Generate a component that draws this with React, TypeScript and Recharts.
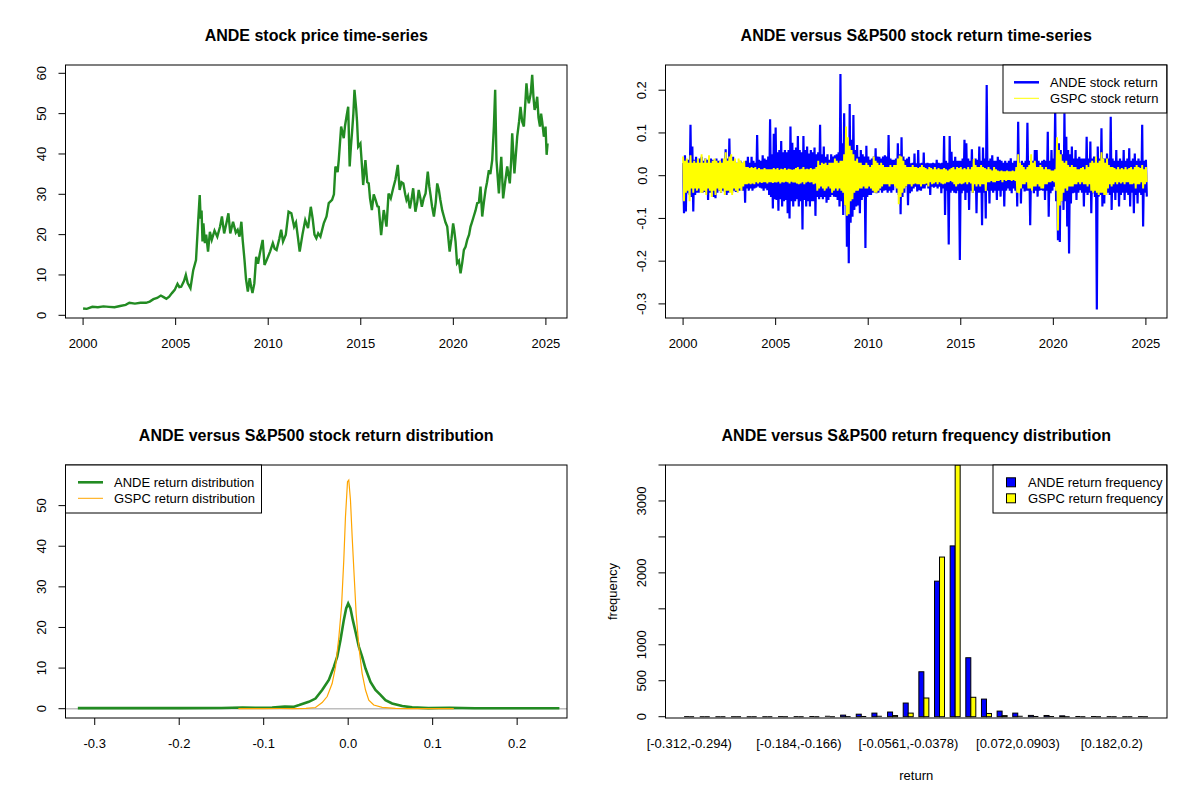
import React from 'react';
import { LineChart, Line, XAxis, YAxis, BarChart, Bar, ReferenceLine } from 'recharts';

const FONT = "'Liberation Sans', Arial, Helvetica, sans-serif";

// ---------------- Panel 1: ANDE price ----------------
const priceYears = [
  2000.0, 2000.2, 2000.5, 2000.8, 2001.1, 2001.4, 2001.7, 2002.0, 2002.3, 2002.5, 2002.8, 2003.1, 2003.4, 2003.6, 2003.8,
  2004.0, 2004.2, 2004.35, 2004.5, 2004.65, 2004.8, 2004.95, 2005.1, 2005.2, 2005.3, 2005.45, 2005.55, 2005.65, 2005.8, 2005.95,
  2006.1, 2006.2, 2006.3, 2006.35, 2006.4, 2006.45, 2006.5, 2006.58, 2006.65, 2006.75, 2006.85, 2006.95, 2007.1, 2007.25, 2007.4,
  2007.5, 2007.62, 2007.75, 2007.85, 2007.95, 2008.1, 2008.25, 2008.35, 2008.45, 2008.55, 2008.62, 2008.72, 2008.8, 2008.9, 2009.0,
  2009.08, 2009.15, 2009.25, 2009.35, 2009.45, 2009.55, 2009.7, 2009.8, 2009.9, 2010.1, 2010.25, 2010.35, 2010.45, 2010.6, 2010.7,
  2010.8, 2010.95, 2011.1, 2011.25, 2011.4, 2011.5, 2011.6, 2011.7, 2011.85, 2012.0, 2012.15, 2012.3, 2012.4, 2012.5, 2012.6,
  2012.7, 2012.82, 2013.0, 2013.15, 2013.27, 2013.45, 2013.55, 2013.63, 2013.75, 2013.81, 2013.94, 2014.08, 2014.15, 2014.23, 2014.32,
  2014.4, 2014.47, 2014.53, 2014.6, 2014.66, 2014.75, 2014.8, 2014.86, 2014.98, 2015.05, 2015.13, 2015.25, 2015.35, 2015.43, 2015.5,
  2015.6, 2015.7, 2015.8, 2015.9, 2015.97, 2016.1, 2016.17, 2016.24, 2016.32, 2016.39, 2016.5, 2016.62, 2016.75, 2016.87, 2017.0,
  2017.1, 2017.2, 2017.3, 2017.4, 2017.47, 2017.55, 2017.65, 2017.75, 2017.83, 2017.95, 2018.05, 2018.13, 2018.22, 2018.3, 2018.4,
  2018.5, 2018.62, 2018.7, 2018.77, 2018.85, 2018.95, 2019.05, 2019.13, 2019.22, 2019.3, 2019.4, 2019.49, 2019.58, 2019.67, 2019.8,
  2019.9, 2019.99, 2020.05, 2020.12, 2020.2, 2020.3, 2020.39, 2020.48, 2020.57, 2020.66, 2020.75, 2020.85, 2020.93, 2021.0, 2021.1,
  2021.2, 2021.29, 2021.38, 2021.47, 2021.56, 2021.65, 2021.74, 2021.82, 2021.92, 2022.0, 2022.1, 2022.19, 2022.26, 2022.33, 2022.4,
  2022.46, 2022.52, 2022.59, 2022.69, 2022.8, 2022.91, 2023.05, 2023.12, 2023.18, 2023.3, 2023.38, 2023.45, 2023.55, 2023.63, 2023.72,
  2023.81, 2023.88, 2023.95, 2024.02, 2024.08, 2024.18, 2024.26, 2024.33, 2024.39, 2024.46, 2024.53, 2024.6, 2024.68, 2024.74, 2024.8,
  2024.89, 2024.95, 2024.98, 2025.04, 2025.09,
];
const priceValues = [
  1.7, 1.6, 2.1, 2.0, 2.2, 2.1, 2.0, 2.3, 2.6, 3.1, 2.9, 3.1, 3.1, 3.4, 4.0,
  4.3, 4.9, 4.5, 4.1, 4.6, 5.5, 6.3, 7.8, 7.0, 7.1, 8.5, 10.0, 8.0, 6.7, 11.2,
  13.7, 22, 29.8, 24, 26, 18.3, 22.8, 17.9, 20, 15.8, 20.7, 18.7, 21, 19.5, 22,
  24.5, 20.3, 23, 25.3, 20.3, 23.2, 20.5, 21.2, 19.5, 23.2, 18.7, 13.7, 9, 5.9, 9.2,
  7, 5.5, 7.9, 14.5, 12.8, 15.4, 18.7, 12.5, 13.5, 15.8, 17.9, 16.5, 16.2, 19, 21.2,
  18.3, 20, 25.7, 25.3, 22, 23, 19.5, 15.8, 20, 23.6, 21.6, 26.9, 24, 20, 19.1,
  20.3, 19.5, 22.8, 24.5, 27.8, 28.6, 30, 36.9, 35.5, 38.5, 46.8, 43.9, 47, 49.3, 51.7,
  36.9, 42, 45.5, 50, 55.9, 51.3, 48, 41.8, 42.6, 38, 32.3, 38.5, 33, 32.7, 29,
  26.1, 30, 28.6, 27, 26.9, 19.9, 23, 26.1, 24, 22, 30.2, 29, 31.5, 33.6, 37.3,
  31.1, 33, 32.7, 30, 28.6, 29.5, 26.5, 29, 31.5, 25.7, 28, 31.1, 29, 26.9, 29,
  30.2, 35.6, 32, 29.8, 27, 24.5, 28, 32.7, 31, 28.6, 26, 24.5, 23, 22, 15.8,
  19, 22.8, 21, 18.3, 12.9, 13.5, 10.4, 13, 16.2, 17, 18.7, 20, 22, 23, 24.5,
  26, 27.8, 28, 31.9, 24.5, 28, 31.1, 33, 36, 35, 38.5, 46.8, 55.9, 38.5, 34,
  30.2, 35, 39.3, 29, 33, 36.9, 32.7, 38, 45.1, 35.2, 40, 44.3, 48, 51.7, 48,
  46.8, 52, 57.5, 54, 52.6, 55, 59.6, 54, 50.9, 52, 54.2, 49, 46.8, 50, 48,
  44.3, 45.5, 46.8, 39.8, 42.6,
];

// ---------------- Panel 2: daily returns (high / low within each 0.1-year slot) ----------------
const RET_START = 2000.0;
const RET_STEP = 0.1;
const andeRetHigh = [
  .03, .048, .037, .037, .119, .068, .037, .044, .037, .04,
  .044, .035, .04, .037, .037, .04, .037, .035, .04, .035,
  .035, .04, .035, .062, .04, .087, .04, .044, .035, .03,
  .03, .035, .03, .03, .035, .044, .03, .044, .035, .03,
  .095, .037, .035, .048, .04, .037, .045, .132, .05, .098,
  .113, .055, .06, .081, .055, .06, .055, .06, .115, .077,
  .06, .066, .093, .06, .055, .093, .06, .068, .052, .06,
  .055, .066, .05, .055, .119, .05, .068, .044, .05, .037,
  .05, .045, .048, .05, .055, .238, .076, .146, .07, .08,
  .168, .084, .142, .06, .072, .044, .06, .05, .045, .07,
  .045, .037, .04, .045, .064, .045, .044, .04, .045, .048,
  .045, .095, .04, .037, .037, .04, .076, .05, .09, .045,
  .037, .04, .044, .029, .03, .052, .029, .06, .029, .03,
  .054, .029, .03, .029, .029, .03, .029, .037, .03, .029,
  .03, .093, .035, .03, .093, .056, .035, .044, .035, .035,
  .035, .04, .084, .076, .04, .035, .062, .035, .04, .037,
  .068, .035, .066, .04, .212, .035, .04, .048, .035, .035,
  .044, .037, .035, .03, .035, .03, .035, .041, .03, .035,
  .035, .126, .03, .035, .03, .035, .124, .035, .03, .035,
  .06, .06, .035, .03, .035, .037, .035, .103, .035, .06,
  .04, .16, .06, .076, .06, .05, .146, .091, .06, .05,
  .068, .04, .06, .04, .044, .04, .04, .04, .091, .04,
  .08, .04, .045, .04, .068, .04, .111, .04, .04, .052,
  .04, .138, .04, .035, .06, .035, .04, .035, .06, .035,
  .04, .064, .035, .04, .052, .035, .04, .035, .119, .035, .037,
];
const andeRetLow = [
  -.088, -.084, -.041, -.045, -.05, -.084, -.045, -.04, -.04, -.038,
  -.04, -.038, -.04, -.057, -.04, -.038, -.05, -.053, -.04, -.036,
  -.04, -.035, -.038, -.045, -.04, -.036, -.04, -.035, -.038, -.035,
  -.035, -.03, -.035, -.063, -.03, -.035, -.03, -.035, -.03, -.028,
  -.025, -.028, -.03, -.035, -.03, -.034, -.045, -.05, -.077, -.055,
  -.057, -.082, -.055, -.072, -.06, -.057, -.088, -.1, -.06, -.072,
  -.06, -.055, -.072, -.06, -.126, -.057, -.072, -.06, -.072, -.06,
  -.06, -.094, -.05, -.055, -.05, -.055, -.05, -.063, -.057, -.05,
  -.045, -.049, -.05, -.057, -.072, -.06, -.092, -.07, -.166, -.205,
  -.11, -.096, -.08, -.072, -.07, -.088, -.057, -.05, -.169, -.05,
  -.045, -.045, -.04, -.04, -.041, -.04, -.034, -.04, -.035, -.034,
  -.04, -.035, -.04, -.034, -.018, -.04, -.045, -.09, -.05, -.04,
  -.026, -.069, -.041, -.037, -.03, -.026, -.037, -.034, -.035, -.03,
  -.03, -.022, -.03, -.045, -.026, -.028, -.026, -.03, -.026, -.041,
  -.03, -.092, -.035, -.161, -.04, -.035, -.04, -.041, -.035, -.197,
  -.041, -.035, -.057, -.04, -.08, -.035, -.04, -.035, -.088, -.04,
  -.04, -.116, -.04, -.1, -.035, -.065, -.035, -.04, -.035, -.057,
  -.035, -.049, -.035, -.072, -.035, -.03, -.035, -.041, -.03, -.035,
  -.072, -.035, -.065, -.03, -.037, -.035, -.035, -.116, -.03, -.041,
  -.035, -.049, -.035, -.034, -.035, -.057, -.035, -.096, -.041, -.035,
  -.026, -.06, -.151, -.155, -.06, -.08, -.06, -.119, -.182, -.065,
  -.041, -.04, -.057, -.04, -.034, -.04, -.072, -.04, -.045, -.04,
  -.088, -.041, -.05, -.313, -.049, -.045, -.072, -.065, -.045, -.04,
  -.045, -.08, -.04, -.057, -.04, -.072, -.045, -.04, -.057, -.04,
  -.045, -.072, -.04, -.088, -.045, -.065, -.04, -.045, -.119, -.04, -.049,
];
const gspcRetHigh = [
  .045, .035, .04, .03, .048, .03, .035, .03, .04, .03,
  .05, .03, .04, .03, .048, .03, .035, .04, .035, .03,
  .035, .03, .04, .055, .035, .045, .05, .035, .04, .03,
  .04, .035, .03, .035, .02, .02, .018, .02, .018, .02,
  .015, .018, .015, .015, .018, .015, .015, .015, .015, .018,
  .015, .018, .014, .016, .015, .018, .014, .016, .015, .014,
  .015, .018, .02, .015, .016, .02, .015, .016, .015, .018,
  .015, .016, .02, .035, .025, .03, .028, .03, .025, .03,
  .03, .03, .04, .035, .03, .035, .035, .05, .115, .09,
  .07, .06, .05, .035, .04, .03, .03, .025, .025, .03,
  .025, .02, .025, .045, .035, .03, .025, .03, .025, .02,
  .02, .02, .025, .02, .025, .025, .04, .047, .045, .035,
  .025, .02, .02, .02, .025, .02, .02, .018, .02, .025,
  .02, .018, .015, .02, .018, .015, .02, .015, .018, .015,
  .015, .018, .015, .012, .015, .018, .02, .015, .02, .018,
  .02, .015, .018, .015, .02, .015, .02, .039, .025, .02,
  .02, .025, .02, .018, .015, .02, .015, .012, .02, .015,
  .012, .01, .012, .01, .01, .012, .01, .01, .012, .01,
  .02, .05, .03, .025, .02, .015, .02, .025, .05, .03,
  .035, .02, .02, .025, .02, .015, .02, .015, .015, .012,
  .012, .015, .09, .06, .05, .035, .03, .035, .025, .02,
  .025, .02, .02, .015, .015, .018, .02, .015, .025, .02,
  .03, .035, .03, .045, .03, .035, .055, .04, .03, .04,
  .025, .02, .02, .018, .015, .02, .015, .018, .015, .02,
  .015, .018, .02, .015, .02, .025, .02, .018, .025, .015, .02,
];
const gspcRetLow = [
  -.06, -.04, -.035, -.06, -.03, -.04, -.03, -.035, -.03, -.04,
  -.04, -.035, -.045, -.03, -.035, -.05, -.035, -.045, -.03, -.035,
  -.04, -.03, -.045, -.035, -.035, -.04, -.045, -.03, -.035, -.04,
  -.03, -.035, -.025, -.02, -.02, -.018, -.02, -.018, -.02, -.015,
  -.018, -.015, -.017, -.015, -.015, -.018, -.015, -.015, -.017, -.015,
  -.016, -.014, -.018, -.015, -.016, -.014, -.015, -.018, -.014, -.016,
  -.016, -.018, -.02, -.018, -.015, -.02, -.016, -.014, -.016, -.015,
  -.02, -.018, -.035, -.03, -.025, -.03, -.035, -.03, -.025, -.03,
  -.04, -.035, -.03, -.035, -.03, -.035, -.04, -.07, -.094, -.09,
  -.06, -.055, -.04, -.035, -.035, -.03, -.03, -.025, -.03, -.03,
  -.025, -.03, -.035, -.04, -.04, -.035, -.03, -.025, -.02, -.02,
  -.02, -.025, -.02, -.02, -.025, -.03, -.067, -.05, -.04, -.03,
  -.025, -.02, -.02, -.025, -.02, -.018, -.02, -.02, -.025, -.02,
  -.02, -.018, -.025, -.015, -.02, -.018, -.015, -.02, -.015, -.018,
  -.02, -.018, -.015, -.015, -.012, -.015, -.02, -.025, -.02, -.018,
  -.02, -.018, -.015, -.02, -.015, -.018, -.04, -.02, -.025, -.02,
  -.025, -.02, -.02, -.036, -.015, -.015, -.012, -.015, -.015, -.012,
  -.012, -.01, -.015, -.01, -.012, -.01, -.01, -.012, -.01, -.012,
  -.04, -.041, -.03, -.02, -.02, -.015, -.03, -.03, -.035, -.025,
  -.025, -.02, -.025, -.03, -.03, -.02, -.02, -.015, -.015, -.012,
  -.015, -.035, -.128, -.07, -.06, -.04, -.03, -.035, -.025, -.025,
  -.025, -.02, -.02, -.015, -.02, -.015, -.02, -.02, -.025, -.02,
  -.035, -.04, -.035, -.04, -.045, -.04, -.04, -.045, -.045, -.03,
  -.02, -.025, -.02, -.015, -.02, -.015, -.018, -.015, -.02, -.015,
  -.015, -.02, -.02, -.018, -.03, -.02, -.02, -.015, -.03, -.02, -.015,
];

// ---------------- Panel 3: return densities ----------------
const andeDensX = [
  -0.32, -0.25, -0.2, -0.15, -0.125, -0.11, -0.09, -0.075, -0.065, -0.058, -0.0466, -0.0387, -0.0308, -0.0229, -0.017,
  -0.013, -0.0091, -0.0052, -0.0024, 0, 0.0027, 0.0055, 0.0086, 0.0126, 0.0165, 0.0205, 0.0264, 0.0323, 0.0382, 0.0441,
  0.052, 0.064, 0.0757, 0.095, 0.12, 0.15, 0.2, 0.25,
];
const andeDensY = [
  0.15, 0.15, 0.15, 0.18, 0.3, 0.22, 0.3, 0.5, 0.45, 0.9, 1.7, 2.5, 4.6, 7.1, 10.3,
  12.8, 16.9, 21.8, 24.7, 25.9, 24.7, 21.8, 19.0, 15.3, 12.8, 9.9, 6.6, 4.6, 3.4, 2.1,
  1.3, 0.66, 0.33, 0.15, 0.22, 0.12, 0.12, 0.12,
];
const gspcDensX = [
  -0.13, -0.1, -0.08, -0.066, -0.05, -0.0387, -0.0308, -0.0249, -0.019, -0.015, -0.011, -0.0079, -0.0052, -0.0032, -0.0008,
  0.0007, 0.0027, 0.0047, 0.0067, 0.0094, 0.0126, 0.0165, 0.0205, 0.0244, 0.0303, 0.0402, 0.056, 0.0718, 0.1, 0.125,
];
const gspcDensY = [
  0.02, 0.02, 0.05, 0.03, 0.1, 0.3, 1.5, 3.0, 6.2, 10.3, 17.7, 25.1, 36.6, 47.3, 55.9,
  56.3, 51.4, 42.4, 34.2, 23.5, 15.3, 8.7, 4.6, 2.1, 0.9, 0.33, 0.08, 0.02, 0.01, 0.01,
];

// ---------------- Panel 4: frequency histogram ----------------
const andeFreq = [1, 0, 0, 0, 0, 0, 1, 1, 2, 6, 22, 35, 50, 65, 190, 625, 1885, 2375, 820, 245, 78, 50, 18, 17, 12, 3, 2, 1, 0, 1];
const gspcFreq = [0, 0, 0, 0, 0, 0, 0, 0, 0, 0, 1, 3, 6, 16, 50, 260, 2220, 3500, 270, 45, 15, 6, 3, 2, 0, 0, 0, 0, 0, 0];
const binTickIndex = [0, 7, 14, 21, 27];
const binTickText = ['[-0.312,-0.294)', '[-0.184,-0.166)', '[-0.0561,-0.0378)', '[0.072,0.0903)', '[0.182,0.2)'];

// ---------------- Ticks ----------------
const yearTicks = [2000, 2005, 2010, 2015, 2020, 2025];
const priceTicks = [0, 10, 20, 30, 40, 50, 60];
const retTicks = [-0.3, -0.2, -0.1, 0, 0.1, 0.2];
const densXTicks = [-0.3, -0.2, -0.1, 0, 0.1, 0.2];
const densYTicks = [0, 10, 20, 30, 40, 50];
const freqTicks = [0, 500, 1000, 1500, 2000, 2500, 3000, 3500];
const freqLabelTicks = [0, 500, 1000, 2000, 3000];

// ---------------- Tables ----------------
const priceTable = priceYears.map((t, i) => ({ t, price: priceValues[i] }));

const retTable: { t: number; ande: number; gspc: number }[] = [];
andeRetHigh.forEach((h, i) => {
  const t0 = RET_START + i * RET_STEP;
  retTable.push({ t: t0, ande: h, gspc: gspcRetHigh[i] });
  retTable.push({ t: t0 + RET_STEP / 2, ande: andeRetLow[i], gspc: gspcRetLow[i] });
});

const densTable: { x: number; ande?: number; gspc?: number }[] = [
  ...andeDensX.map((x, i) => ({ x, ande: andeDensY[i] })),
  ...gspcDensX.map((x, i) => ({ x, gspc: gspcDensY[i] })),
].sort((a, b) => a.x - b.x);

const freqTable = andeFreq.map((a, i) => ({ bin: i, ande: a, gspc: gspcFreq[i] }));

// ---------------- Geometry / helpers ----------------
const W = 600;
const H = 400;
const BOX = { left: 65.5, top: 65, right: 567, bottom: 318 };
const AX_W = 30;
const AX_H = 30;
const MARGIN = { top: BOX.top, right: W - BOX.right, bottom: H - BOX.bottom - AX_H, left: BOX.left - AX_W };
const LABEL_Y = 343;
const LABEL_X = 42;

const txt = { fontFamily: FONT, fontSize: 13, fill: '#000' } as const;

const makeXTick = (fmt: (v: any) => string) => (props: any) => {
  const { x, payload } = props;
  return (
    <text x={x} y={LABEL_Y} textAnchor="middle" dominantBaseline="central" {...txt}>
      {fmt(payload.value)}
    </text>
  );
};

const makeYTick = (fmt: (v: any) => string, show?: number[]) => (props: any) => {
  const { y, payload } = props;
  const v = payload.value;
  if (show && !show.includes(v)) return <g />;
  return (
    <text x={LABEL_X} y={y} transform={`rotate(-90 ${LABEL_X} ${y})`} textAnchor="middle" dominantBaseline="central" {...txt}>
      {fmt(v)}
    </text>
  );
};

const binTick = (props: any) => {
  const { x, payload } = props;
  const k = binTickIndex.indexOf(payload.value);
  if (k < 0) return <g />;
  return (
    <text x={x} y={LABEL_Y} textAnchor="middle" dominantBaseline="central" {...txt}>
      {binTickText[k]}
    </text>
  );
};

const BarShape = (p: any) => {
  const { x, y, width, height, fill } = p;
  if (!height || height < 0.5) {
    return <line x1={x} x2={x + width} y1={y} y2={y} stroke="#000" strokeWidth={1} />;
  }
  return <rect x={x} y={y} width={width} height={height} fill={fill} stroke="#000" strokeWidth={1} />;
};

const fmtInt = (v: number) => String(v);
const fmt1 = (v: number) => v.toFixed(1);

type LegendItem = { label: string; color: string; kind: 'line' | 'box'; width?: number };

const Legend = ({ x, w, items, symX, textX }: { x: number; w: number; items: LegendItem[]; symX: number; textX: number }) => (
  <g>
    <rect x={x} y={65} width={w} height={48} fill="#fff" stroke="#000" strokeWidth={1} />
    {items.map((it, i) => {
      const y = 82.3 + i * 16;
      return (
        <g key={i}>
          {it.kind === 'line' ? (
            <line x1={symX} x2={symX + 25} y1={y} y2={y} stroke={it.color} strokeWidth={it.width || 1} />
          ) : (
            <rect x={symX - 4.5} y={y - 4.5} width={9} height={9} fill={it.color} stroke="#000" strokeWidth={1} />
          )}
          <text x={textX} y={y} dominantBaseline="central" {...txt}>
            {it.label}
          </text>
        </g>
      );
    })}
  </g>
);

const Overlay = ({ title, children }: { title: string; children?: React.ReactNode }) => (
  <svg width={W} height={H} style={{ position: 'absolute', left: 0, top: 0, pointerEvents: 'none' }}>
    <text x={(BOX.left + BOX.right) / 2} y={35} textAnchor="middle" dominantBaseline="central" fontFamily={FONT} fontSize={16} fontWeight="bold" fill="#000">
      {title}
    </text>
    <rect x={BOX.left} y={BOX.top} width={BOX.right - BOX.left} height={BOX.bottom - BOX.top} fill="none" stroke="#000" strokeWidth={1} />
    {children}
  </svg>
);

const Panel = ({ left, top, children }: { left: number; top: number; children: React.ReactNode }) => (
  <div style={{ position: 'absolute', left, top, width: W, height: H }}>{children}</div>
);

export default function App() {
  return (
    <div style={{ position: 'fixed', left: 0, top: 0, width: 1200, height: 800, background: '#fff', overflow: 'hidden' }}>
      {/* Panel 1 */}
      <Panel left={0} top={0}>
        <LineChart width={W} height={H} data={priceTable} margin={MARGIN}>
          <XAxis dataKey="t" type="number" domain={[1999.05, 2026.14]} allowDataOverflow ticks={yearTicks} height={AX_H}
            stroke="#000" axisLine={false} tickSize={7} tick={makeXTick(fmtInt)} />
          <YAxis type="number" domain={[-0.67, 62.06]} allowDataOverflow ticks={priceTicks} width={AX_W}
            stroke="#000" axisLine={false} tickSize={7} tick={makeYTick(fmtInt)} />
          <Line dataKey="price" stroke="#228B22" strokeWidth={2.4} dot={false} isAnimationActive={false} />
        </LineChart>
        <Overlay title="ANDE stock price time-series" />
      </Panel>

      {/* Panel 2 */}
      <Panel left={600} top={0}>
        <LineChart width={W} height={H} data={retTable} margin={MARGIN}>
          <XAxis dataKey="t" type="number" domain={[1999.05, 2026.14]} allowDataOverflow ticks={yearTicks} height={AX_H}
            stroke="#000" axisLine={false} tickSize={7} tick={makeXTick(fmtInt)} />
          <YAxis type="number" domain={[-0.333, 0.259]} allowDataOverflow ticks={retTicks} width={AX_W}
            stroke="#000" axisLine={false} tickSize={7} tick={makeYTick(fmt1)} />
          <Line dataKey="ande" stroke="#0000FF" strokeWidth={2.2} dot={false} isAnimationActive={false} />
          <Line dataKey="gspc" stroke="#FFFF00" strokeWidth={1.9} dot={false} isAnimationActive={false} />
        </LineChart>
        <Overlay title="ANDE versus S&P500 stock return time-series">
          <Legend x={403} w={163.7} symX={414} textX={450}
            items={[
              { label: 'ANDE stock return', color: '#0000FF', kind: 'line', width: 2.5 },
              { label: 'GSPC stock return', color: '#FFFF00', kind: 'line', width: 1 },
            ]} />
        </Overlay>
      </Panel>

      {/* Panel 3 */}
      <Panel left={0} top={400}>
        <LineChart width={W} height={H} data={densTable} margin={MARGIN}>
          <XAxis dataKey="x" type="number" domain={[-0.3346, 0.259]} allowDataOverflow ticks={densXTicks} height={AX_H}
            stroke="#000" axisLine={false} tickSize={7} tick={makeXTick(fmt1)} />
          <YAxis type="number" domain={[-2.29, 60.0]} allowDataOverflow ticks={densYTicks} width={AX_W}
            stroke="#000" axisLine={false} tickSize={7} tick={makeYTick(fmtInt)} />
          <ReferenceLine y={0} stroke="#BEBEBE" strokeWidth={1.5} />
          <Line dataKey="ande" stroke="#228B22" strokeWidth={2.6} dot={false} connectNulls isAnimationActive={false} />
          <Line dataKey="gspc" stroke="#FFA500" strokeWidth={1.2} dot={false} connectNulls isAnimationActive={false} />
        </LineChart>
        <Overlay title="ANDE versus S&P500 stock return distribution">
          <Legend x={BOX.left} w={196} symX={78} textX={114}
            items={[
              { label: 'ANDE return distribution', color: '#228B22', kind: 'line', width: 2.6 },
              { label: 'GSPC return distribution', color: '#FFA500', kind: 'line', width: 1 },
            ]} />
        </Overlay>
      </Panel>

      {/* Panel 4 */}
      <Panel left={600} top={400}>
        <BarChart width={W} height={H} data={freqTable} margin={MARGIN} barCategoryGap="16.667%" barGap={0}>
          <XAxis dataKey="bin" type="category" interval={0} height={AX_H} padding={{ left: 16, right: 16 }}
            axisLine={false} tickLine={false} tick={binTick} />
          <YAxis type="number" domain={[-18, 3500]} allowDataOverflow ticks={freqTicks} width={AX_W}
            stroke="#000" axisLine={false} tickSize={7} tick={makeYTick(fmtInt, freqLabelTicks)} />
          <Bar dataKey="ande" fill="#0000FF" shape={BarShape} isAnimationActive={false} />
          <Bar dataKey="gspc" fill="#FFFF00" shape={BarShape} isAnimationActive={false} />
        </BarChart>
        <Overlay title="ANDE versus S&P500 return frequency distribution">
          <Legend x={393} w={173.7} symX={411} textX={428}
            items={[
              { label: 'ANDE return frequency', color: '#0000FF', kind: 'box' },
              { label: 'GSPC return frequency', color: '#FFFF00', kind: 'box' },
            ]} />
          <text x={12} y={(BOX.top + BOX.bottom) / 2} transform={`rotate(-90 12 ${(BOX.top + BOX.bottom) / 2})`}
            textAnchor="middle" dominantBaseline="central" {...txt}>frequency</text>
          <text x={(BOX.left + BOX.right) / 2} y={375} textAnchor="middle" dominantBaseline="central" {...txt}>return</text>
        </Overlay>
      </Panel>
    </div>
  );
}
